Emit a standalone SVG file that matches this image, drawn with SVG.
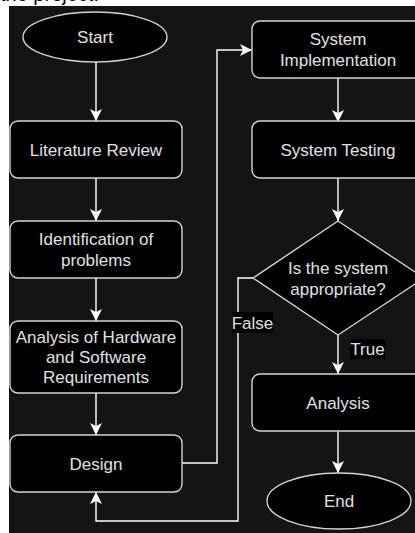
<svg xmlns="http://www.w3.org/2000/svg" width="415" height="533" viewBox="0 0 415 533">
<defs>
<marker id="arr" markerUnits="userSpaceOnUse" viewBox="0 0 12 12" markerWidth="12" markerHeight="12" refX="12" refY="6" orient="auto">
<path d="M0,0 L12,6 L0,12 L3,6 Z" fill="#ffffff"/>
</marker>
</defs>
<style>
.node{fill:#000;stroke:#d4d4d4;stroke-width:1.4}
.t{font-family:"Liberation Sans",Arial,sans-serif;font-size:17px;fill:#e0e0e0;text-anchor:middle}
.c{fill:none;stroke:#ffffff;stroke-width:1.4;marker-end:url(#arr)}
.lbl{fill:#000}
</style>
<rect x="0" y="0" width="415" height="533" fill="#ffffff"/>
<text x="0" y="1" style="font-family:'Liberation Sans',Arial,sans-serif;font-size:20px;fill:#000">the project.</text>
<rect x="9" y="6" width="406" height="527" fill="#141414"/>
<g id="connectors">
<path class="c" d="M96,62 L96,121"/>
<path class="c" d="M96,178 L96,221"/>
<path class="c" d="M96,278 L96,321"/>
<path class="c" d="M96,393 L96,435"/>
<path class="c" d="M182,463 L217,463 L217,50 L252,50"/>
<path class="c" d="M338,78 L338,122"/>
<path class="c" d="M338,178 L338,221"/>
<path class="c" d="M338,335 L338,374"/>
<path class="c" d="M253,278 L238,278 L238,521 L96,521 L96,492"/>
<path class="c" d="M338,431 L338,473"/>
<rect class="lbl" x="232" y="312" width="41" height="21"/>
<text class="t" x="252.5" y="329">False</text>
<rect class="lbl" x="350" y="339" width="35" height="20"/>
<text class="t" x="367.5" y="355">True</text>
</g>
<g id="start"><ellipse class="node" cx="95" cy="37" rx="72" ry="25"/><text class="t" x="95" y="43">Start</text></g>
<g id="lit"><rect class="node" x="10" y="121" width="172" height="57" rx="8"/><text class="t" x="96" y="155.5">Literature Review</text></g>
<g id="ident"><rect class="node" x="10" y="221" width="172" height="57" rx="8"/><text class="t" x="96" y="245">Identification of</text><text class="t" x="96" y="266">problems</text></g>
<g id="ahw"><rect class="node" x="10" y="321" width="172" height="72" rx="8"/><text class="t" x="96" y="343">Analysis of Hardware</text><text class="t" x="96" y="363">and Software</text><text class="t" x="96" y="383">Requirements</text></g>
<g id="design"><rect class="node" x="10" y="435" width="172" height="57" rx="8"/><text class="t" x="96" y="469.5">Design</text></g>
<g id="impl"><rect class="node" x="252" y="21" width="172" height="57" rx="8"/><text class="t" x="338" y="45">System</text><text class="t" x="338" y="66">Implementation</text></g>
<g id="testing"><rect class="node" x="252" y="121" width="172" height="57" rx="8"/><text class="t" x="338" y="155.5">System Testing</text></g>
<g id="decision"><polygon class="node" points="338,221 424,278 338,335 253,278"/><text class="t" x="338" y="274">Is the system</text><text class="t" x="338" y="295">appropriate?</text></g>
<g id="analysis"><rect class="node" x="252" y="374" width="172" height="57" rx="8"/><text class="t" x="338" y="408.5">Analysis</text></g>
<g id="end"><ellipse class="node" cx="339" cy="501" rx="72" ry="28"/><text class="t" x="339" y="507">End</text></g>
</svg>
